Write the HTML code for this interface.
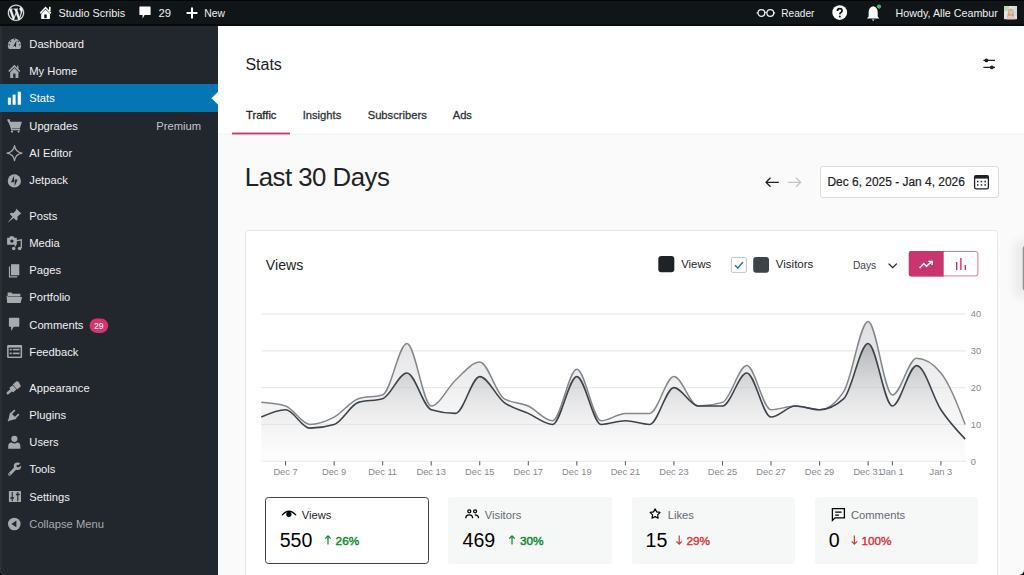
<!DOCTYPE html>
<html><head><meta charset="utf-8"><title>Stats</title>
<style>
*{box-sizing:border-box;margin:0;padding:0}
html,body{width:1024px;height:575px;overflow:hidden;background:#000}
body{font-family:"Liberation Sans",sans-serif;position:relative}
.t{position:absolute;white-space:nowrap;line-height:1.117}
#wrap{position:absolute;left:0;top:0;width:1024px;height:575px;border-radius:0 0 5px 5px;overflow:hidden;background:#fafafa}
#adminbar{position:absolute;left:0;top:0;width:1024px;height:25.6px;background:#101517}
#sidebar{position:absolute;left:0;top:25.6px;width:217.6px;height:550px;background:#22262d}
#header{position:absolute;left:217.6px;top:25.6px;width:806px;height:109.4px;background:#fff;border-bottom:2.2px solid #f5f6f6}
.abs{position:absolute}
svg{position:absolute;overflow:visible}
</style></head><body>
<div id="wrap">
<div id="adminbar">
<div class="abs" style="left:0;top:0;width:1024px;height:1px;background:#030506"></div>
<div class="abs" style="left:0;top:24.4px;width:1024px;height:1.2px;background:#07090a"></div>
<!-- WP logo -->
<svg style="left:0;top:0" width="30" height="26" viewBox="0 0 30 26">
 <g transform="translate(7.98,4.78) scale(0.668)" fill="#f0f0f1" stroke="#f0f0f1" stroke-width="0.55"><path d="M21.469 6.825c.84 1.537 1.318 3.3 1.318 5.175 0 3.979-2.156 7.456-5.363 9.325l3.295-9.527c.615-1.54.82-2.771.82-3.864 0-.405-.026-.78-.07-1.11m-7.981.105c.647-.03 1.232-.105 1.232-.105.582-.075.514-.93-.067-.899 0 0-1.755.135-2.88.135-1.064 0-2.850-.15-2.850-.15-.585-.03-.661.855-.075.885 0 0 .54.061 1.125.09l1.68 4.605-2.37 7.080L5.354 6.9c.649-.03 1.234-.1 1.234-.1.585-.075.516-.93-.065-.896 0 0-1.746.138-2.874.138-.2 0-.438-.008-.69-.015C4.911 3.150 8.235 1.215 12 1.215c2.809 0 5.365 1.072 7.286 2.833-.046-.003-.091-.009-.141-.009-1.060 0-1.812.923-1.812 1.914 0 .89.513 1.643 1.060 2.531.411.72.89 1.643.89 2.977 0 .915-.354 1.994-.821 3.479l-1.075 3.585-3.9-11.610.001.014zM12 22.784c-1.059 0-2.081-.153-3.048-.437l3.237-9.406 3.315 9.087c.024.053.05.101.078.149-1.120.393-2.325.609-3.582.609M1.211 12c0-1.564.336-3.050.935-4.390L7.290 21.709C3.694 19.960 1.212 16.271 1.211 12M12 0C5.385 0 0 5.385 0 12s5.385 12 12 12 12-5.385 12-12S18.615 0 12 0"/></g>
</svg>
<!-- home -->
<svg style="left:0;top:0" width="60" height="26" viewBox="0 0 60 26">
 <path d="M40.2 13.2 L45.55 7.6 L50.9 13.2" fill="none" stroke="#fff" stroke-width="1.5"/>
 <rect x="49" y="6.8" width="1.6" height="4.2" fill="#fff"/>
 <path d="M41.2 13.8 L45.55 9.6 L49.9 13.8 V19 H41.2 Z" fill="#fff"/>
 <rect x="44.3" y="14.5" width="2.4" height="3.7" fill="#101517"/>
</svg>
<!-- comment bubble -->
<svg style="left:139px;top:6px" width="12" height="14" viewBox="0 0 12 14">
 <path d="M1 0.5 H11 Q11.6 0.5 11.6 1.1 V8.4 Q11.6 9 11 9 H5.6 L3.6 12.6 L3.6 9 H1 Q0.4 9 0.4 8.4 V1.1 Q0.4 0.5 1 0.5 Z" fill="#fff"/>
</svg>
<!-- plus -->
<svg style="left:185.5px;top:7px" width="12" height="12" viewBox="0 0 12 12">
 <path d="M5 0.5 H7 V5 H11.5 V7 H7 V11.5 H5 V7 H0.5 V5 H5 Z" fill="#fff"/>
</svg>
<!-- reader glasses -->
<svg style="left:756px;top:8px" width="20" height="10" viewBox="0 0 20 10">
 <circle cx="5.4" cy="5" r="3.4" fill="none" stroke="#f0f0f1" stroke-width="1.2"/>
 <circle cx="14.3" cy="5" r="3.4" fill="none" stroke="#f0f0f1" stroke-width="1.2"/>
 <path d="M8.8 4.6 Q9.85 3.9 10.9 4.6 M2 4.6 L0.6 5.2 M17.7 4.6 L19.1 5.2" stroke="#f0f0f1" stroke-width="1.1" fill="none"/>
</svg>
<!-- help -->
<svg style="left:831.5px;top:5.2px" width="16" height="16" viewBox="0 0 16 16">
 <circle cx="7.7" cy="7.6" r="7.4" fill="#fff"/>
 <path d="M5.4 6 Q5.4 3.6 7.8 3.6 Q10.1 3.6 10.1 5.7 Q10.1 7 8.6 7.7 Q7.8 8.1 7.8 9.2" stroke="#101517" stroke-width="1.7" fill="none"/>
 <circle cx="7.8" cy="11.5" r="1.05" fill="#101517"/>
</svg>
<!-- bell -->
<svg style="left:865.5px;top:4px" width="18" height="18" viewBox="0 0 18 18">
 <path d="M7.2 2.2 Q2.6 3 2.6 8.2 V12.6 L0.9 14.4 H13.4 L11.7 12.6 V8.2 Q11.7 3 7.2 2.2 Z" fill="#fff"/>
 <path d="M5.8 15.5 H8.6 L7.2 17.1 Z" fill="#fff"/>
 <circle cx="13" cy="2.6" r="2.8" fill="#101517"/>
 <circle cx="13" cy="2.6" r="2.1" fill="#4ab866"/>
</svg>
<!-- avatar -->
<svg style="left:1004px;top:5.8px" width="13" height="13.2" viewBox="0 0 13 13.2">
 <rect width="13" height="13.2" fill="#e4e6e4"/>
 <rect x="0" y="0" width="5" height="5" fill="#bcd9b4"/>
 <rect x="8" y="0" width="5" height="2" fill="#d6e4cc"/>
 <rect x="9" y="2" width="4" height="8" fill="#d9d9d6"/>
 <path d="M3.2 13.2 Q3 9 4 7 Q4 3 7 2.6 Q9.4 3 9.6 6.6 Q10.4 10 10 13.2 Z" fill="#c8a58c"/>
 <ellipse cx="6.9" cy="6.2" rx="1.9" ry="2.3" fill="#e8c0ad"/>
 <path d="M2 13.2 Q2.4 9.8 6.6 9.4 Q11 9.8 11.6 13.2 Z" fill="#e7c6c0"/>
</svg>
</div>

<div id="sidebar">
 <div class="abs" style="left:0;top:0;width:1.5px;height:550px;background:#2a2e35"></div>
 <div class="abs" style="left:0;top:58.9px;width:218px;height:27.2px;background:#0675b4"></div>
</div>
<!-- sidebar icons (absolute page coords) -->
<svg style="left:0;top:0" width="218" height="575" viewBox="0 0 218 575">
 <g fill="#a7aaad">
  <!-- dashboard gauge -->
  <path d="M8.9 49 A6.7 6.7 0 1 1 20.1 49 Z"/>
  <g fill="#22262d">
   <circle cx="14.5" cy="39.6" r="0.7"/><circle cx="10.6" cy="41.3" r="0.7"/><circle cx="18.4" cy="41.3" r="0.7"/>
   <circle cx="9.2" cy="44.8" r="0.7"/><circle cx="19.8" cy="44.8" r="0.7"/>
   <path d="M13.2 46.4 L16.4 40.4 L15.9 47.3 Z"/>
  </g>
  <circle cx="14.6" cy="46.9" r="0.75" fill="#d5d7d9"/>
  <!-- my home -->
  <path d="M14.3 64.8 L8.2 70.9 L9.3 71.9 L14.3 66.9 L19.3 71.9 L20.4 70.9 L18.4 68.9 V65.6 H17.2 V67.7 Z"/>
  <path d="M10.2 72.2 L14.3 68.1 L18.4 72.2 V77.9 H10.2 Z"/>
  <rect x="13.2" y="73.6" width="2.3" height="4.3" fill="#22262d"/>
  <!-- cart -->
  <path d="M6.9 119.6 H9.6 L10.3 121.8 H21.9 L19.8 128.4 H11.6 Z"/>
  <path d="M8.8 119.2 L11.8 129.6 H20.2" fill="none" stroke="#a7aaad" stroke-width="1.3"/>
  <circle cx="12" cy="131.6" r="1.1"/><circle cx="18.6" cy="131.6" r="1.1"/>
  <!-- AI editor sparkle -->
  <path d="M14.5 145.6 Q15.4 152 22 153.1 Q15.4 154.2 14.5 160.6 Q13.6 154.2 7 153.1 Q13.6 152 14.5 145.6 Z" fill="none" stroke="#a7aaad" stroke-width="1.25" stroke-linejoin="round"/>
  <!-- jetpack -->
  <circle cx="14.35" cy="180.9" r="6.6"/>
  <path d="M14.1 175.6 L11 182.2 H14 Z M14.6 186.2 L17.7 179.6 H14.7 Z" fill="#22262d"/>
  <!-- posts pin -->
  <path d="M16.2 208.6 L21.4 213.8 L20 214.2 L17.4 216.8 L17.6 219.4 L16.3 220.6 L13.6 217.9 L7.4 222.9 L12.4 216.7 L9.7 214 L10.9 212.7 L13.5 212.9 L16.1 210.3 Z"/>
  <!-- media -->
  <path d="M7.1 237.8 H9.2 L10.2 236.3 H13.4 L14.4 237.8 H16.8 V244.7 H7.1 Z"/>
  <circle cx="11.9" cy="241.1" r="1.7" fill="#22262d"/>
  <path d="M14.2 241.2 L21.3 239.9 V248.2" fill="none" stroke="#a7aaad" stroke-width="1.3"/>
  <path d="M15.3 246.6 V241.6" stroke="#a7aaad" stroke-width="1.3"/>
  <circle cx="19.6" cy="248.6" r="1.75"/><circle cx="13.7" cy="248.6" r="1.75"/>
  <!-- pages -->
  <path d="M11 264.2 H19.3 V275.3 H11 Z"/>
  <path d="M9.5 266.5 V276.8 H17.2" fill="none" stroke="#a7aaad" stroke-width="1.2"/>
  <!-- portfolio folder -->
  <path d="M7.6 292.4 H11.3 L12.6 293.8 H20.4 V296.4 H7.6 Z"/>
  <path d="M8.4 297 H22.1 L20.6 303.1 H7.2 L6.5 295.6 Z"/>
  <!-- comments -->
  <path d="M9.6 317.7 H18.6 Q19.3 317.7 19.3 318.4 V326.1 Q19.3 326.8 18.6 326.8 H13.8 L11.1 331 V326.8 H9.6 Q8.9 326.8 8.9 326.1 V318.4 Q8.9 317.7 9.6 317.7 Z"/>
  <!-- feedback -->
  <rect x="7.1" y="344.9" width="15" height="13.2" rx="1"/>
  <rect x="8.6" y="347.6" width="12" height="9" fill="#22262d"/>
  <rect x="9.6" y="348.8" width="2.2" height="1.6"/><rect x="12.8" y="348.8" width="6.8" height="1.6"/>
  <rect x="9.6" y="352.6" width="2.2" height="1.6"/><rect x="12.8" y="352.6" width="6.8" height="1.6"/>
  <!-- appearance brush -->
  <g transform="translate(7.9,393.1) rotate(-41)">
   <path d="M0 0 L5.2 0" stroke="#a7aaad" stroke-width="2.7" stroke-linecap="round"/>
   <rect x="4.4" y="-2.9" width="4.3" height="5.8" rx="0.3"/>
   <path d="M9.3 -3.3 H14.2 L15.6 -1.6 L14.4 3.3 H9.3 Z"/>
  </g>
  <!-- plugins -->
  <g transform="translate(8.2,420.8) rotate(-45)">
   <rect x="0" y="-0.9" width="2" height="1.8"/>
   <path d="M1.6 -1 L6.8 -4.4 Q7.6 -4.4 7.6 -3.6 V3.6 Q7.6 4.4 6.8 4.4 L1.6 1 Z"/>
   <rect x="7.2" y="-3.7" width="5" height="1.7"/>
   <rect x="7.2" y="2" width="5" height="1.7"/>
  </g>
  <!-- users -->
  <circle cx="14.4" cy="438.8" r="3.1"/>
  <path d="M8.2 448.8 V446.4 Q8.2 442.8 11.6 442.6 Q14.4 444.4 17.2 442.6 Q20.4 442.8 20.4 446.4 V448.8 Z"/>
  <!-- tools wrench -->
  <path d="M9.6 474.2 L15.4 468.3" stroke="#a7aaad" stroke-width="2.9" stroke-linecap="round"/>
  <circle cx="17.5" cy="466.2" r="3.7"/>
  <path d="M17.6 466.1 L21.8 461.9 L23.2 463.3 L19 467.5 Z" fill="#22262d"/>
  <circle cx="17.7" cy="466" r="1.2" fill="#22262d"/>
  <circle cx="9.7" cy="474.1" r="0.7" fill="#22262d"/>
  <!-- settings -->
  <rect x="8.9" y="490.9" width="12.1" height="11.2" rx="0.6"/>
  <path d="M12.2 491.9 V501.2 M17.8 491.9 V501.2" stroke="#23282d" stroke-width="1.1"/>
  <path d="M10.4 498 H14 M16 494.4 H19.6" stroke="#23282d" stroke-width="1.5"/>
  <!-- collapse -->
  <circle cx="14.3" cy="523.95" r="6.3"/>
  <path d="M11.4 523.9 L16.4 520.6 V527.2 Z" fill="#22262d"/>
 </g>
 <!-- stats bars -->
 <g fill="#fff">
  <rect x="7.9" y="97.6" width="3" height="7.1"/>
  <rect x="12.6" y="94.6" width="3" height="10.1"/>
  <rect x="17.7" y="91.7" width="3.2" height="13"/>
 </g>
 <!-- comments badge -->
 <rect x="89.5" y="318.6" width="18.8" height="14.3" rx="7.15" fill="#d3366e"/>
</svg>

<div id="header"></div>
<div class="abs" style="left:217.6px;top:50px;width:806.4px;height:1px;background:#fbfcfc"></div>
<!-- stats arrow -->
<svg style="left:0;top:0" width="1024" height="575" viewBox="0 0 1024 575">
 <path d="M211.4 98.2 L218.2 91.6 V104.8 Z" fill="#fff"/>
 <!-- header settings icon -->
 <g stroke="#1d2327" stroke-width="1.3">
  <path d="M983.4 60.4 H995 M983.4 67.4 H995"/>
 </g>
 <circle cx="986.4" cy="60.4" r="1.9" fill="#1d2327"/>
 <circle cx="991.8" cy="67.4" r="1.9" fill="#1d2327"/>
 <!-- tab underline -->
 <rect x="232" y="132.6" width="58" height="1.8" fill="#c9356e"/>
 <!-- arrows -->
 <path d="M766 182.3 H778.8 M770.5 177.8 L766 182.3 L770.5 186.8" stroke="#1d2327" stroke-width="1.3" fill="none"/>
 <path d="M800.6 182.3 H787.8 M796.1 177.8 L800.6 182.3 L796.1 186.8" stroke="#c3c4c7" stroke-width="1.3" fill="none"/>
</svg>
<!-- date box -->
<div class="abs" style="left:820px;top:166px;width:178.6px;height:32px;background:#fff;border:1px solid #dcdcde;border-radius:3px"></div>
<svg style="left:0;top:0" width="1024" height="575" viewBox="0 0 1024 575">
 <rect x="974.6" y="175.6" width="13.8" height="13.2" rx="1.6" fill="none" stroke="#1d2327" stroke-width="1.3"/>
 <rect x="974.6" y="175.6" width="13.8" height="3" fill="#1d2327"/>
 <g fill="#1d2327">
  <rect x="977" y="180.8" width="1.5" height="1.5"/><rect x="980.7" y="180.8" width="1.5" height="1.5"/><rect x="984.4" y="180.8" width="1.5" height="1.5"/>
  <rect x="977" y="184.2" width="1.5" height="1.5"/><rect x="980.7" y="184.2" width="1.5" height="1.5"/><rect x="984.4" y="184.2" width="1.5" height="1.5"/>
 </g>
</svg>
<!-- card -->
<div class="abs" style="left:245px;top:230px;width:753.2px;height:400px;background:#fff;border:1px solid #e6e6e6;border-radius:3px"></div>
<svg style="left:0;top:0" width="1024" height="575" viewBox="0 0 1024 575">
 <rect x="658.3" y="256" width="16" height="16.2" rx="3" fill="#1d2327"/>
 <rect x="731.4" y="257.4" width="15" height="15" rx="1.5" fill="#fff" stroke="#c3c4c7" stroke-width="1"/>
 <path d="M735 265.2 L737.8 268 L743 262" stroke="#2271b1" stroke-width="1.4" fill="none"/>
 <rect x="753.2" y="257" width="15.8" height="15.8" rx="3" fill="#3c434a"/>
 <path d="M888.6 263.6 L892.7 267.6 L896.8 263.6" stroke="#1d2327" stroke-width="1.3" fill="none"/>
 <!-- toggle -->
 <rect x="909.3" y="251.5" width="68.6" height="24.4" rx="2.2" fill="#fff" stroke="#d77c9f" stroke-width="1"/>
 <path d="M911 251 H943.7 V276.4 H911 Q908.8 276.4 908.8 274.2 V253.2 Q908.8 251 911 251 Z" fill="#c9356e"/>
 <path d="M919.6 268 L923.8 263.6 L926.4 266.2 L931.8 261.6 M928.4 261.4 H932.2 V265" stroke="#fff" stroke-width="1.4" fill="none"/>
 <g fill="#c9356e">
  <rect x="956" y="262" width="1.4" height="8"/><rect x="960.2" y="258" width="1.4" height="12"/><rect x="964.6" y="265" width="1.4" height="5"/>
 </g>
</svg>
<!-- chart -->
<svg style="left:0;top:0" width="1024" height="575" viewBox="0 0 1024 575">
 <defs>
  <linearGradient id="gv" x1="0" y1="314" x2="0" y2="461" gradientUnits="userSpaceOnUse">
   <stop offset="0" stop-color="#c4c5c9" stop-opacity="0.6"/>
   <stop offset="1" stop-color="#f3f3f4" stop-opacity="0.25"/>
  </linearGradient>
  <linearGradient id="gs" x1="0" y1="314" x2="0" y2="461" gradientUnits="userSpaceOnUse">
   <stop offset="0" stop-color="#6f7277" stop-opacity="0.7"/>
   <stop offset="1" stop-color="#ffffff" stop-opacity="0"/>
  </linearGradient>
 </defs>
 <g stroke="#e4e4e6" stroke-width="1">
  <path d="M261.3 314.1 H965.5 M261.3 350.9 H965.5 M261.3 387.7 H965.5 M261.3 424.4 H965.5 M261.3 461.2 H965.5"/>
 </g>
 <path d="M261.30,402.36 C269.39,402.97 277.48,403.59 285.57,406.04 C293.66,408.49 301.75,424.43 309.84,424.43 C317.94,424.43 326.03,421.36 334.12,417.07 C342.21,412.78 350.30,401.13 358.39,398.68 C366.48,396.23 374.57,397.46 382.66,395.00 C390.75,392.55 398.84,343.52 406.93,343.52 C415.03,343.52 423.12,406.04 431.21,406.04 C439.30,406.04 447.39,387.65 455.48,380.30 C463.57,372.94 471.66,361.91 479.75,361.91 C487.84,361.91 495.93,393.78 504.02,398.68 C512.11,403.59 520.21,402.36 528.30,406.04 C536.39,409.72 544.48,420.75 552.57,420.75 C560.66,420.75 568.75,369.26 576.84,369.26 C584.93,369.26 593.02,420.75 601.11,420.75 C609.20,420.75 617.30,413.39 625.39,413.39 C633.48,413.39 641.57,413.39 649.66,413.39 C657.75,413.39 665.84,376.62 673.93,376.62 C682.02,376.62 690.11,406.04 698.20,406.04 C706.29,406.04 714.39,404.81 722.48,402.36 C730.57,399.91 738.66,365.59 746.75,365.59 C754.84,365.59 762.93,409.71 771.02,409.71 C779.11,409.71 787.20,406.04 795.29,406.04 C803.38,406.04 811.47,409.71 819.57,409.71 C827.66,409.71 835.75,403.59 843.84,391.33 C851.93,379.07 860.02,321.46 868.11,321.46 C876.20,321.46 884.29,395.00 892.38,395.00 C900.47,395.00 908.56,358.23 916.66,358.23 C924.75,358.23 932.84,363.13 940.93,372.94 C949.02,382.75 957.11,403.59 965.20,424.43 L965.20,461.20 L261.30,461.20 Z" fill="url(#gv)"/>
 <path d="M261.30,417.07 C269.39,413.39 277.48,409.71 285.57,409.71 C293.66,409.71 301.75,428.10 309.84,428.10 C317.94,428.10 326.03,426.88 334.12,424.43 C342.21,421.97 350.30,404.81 358.39,402.36 C366.48,399.91 374.57,401.13 382.66,398.68 C390.75,396.23 398.84,372.94 406.93,372.94 C415.03,372.94 423.12,407.26 431.21,409.71 C439.30,412.17 447.39,413.39 455.48,413.39 C463.57,413.39 471.66,376.62 479.75,376.62 C487.84,376.62 495.93,396.23 504.02,402.36 C512.11,408.49 520.21,409.71 528.30,413.39 C536.39,417.07 544.48,424.43 552.57,424.43 C560.66,424.43 568.75,376.62 576.84,376.62 C584.93,376.62 593.02,424.43 601.11,424.43 C609.20,424.43 617.30,420.75 625.39,420.75 C633.48,420.75 641.57,424.43 649.66,424.43 C657.75,424.43 665.84,387.65 673.93,387.65 C682.02,387.65 690.11,406.04 698.20,406.04 C706.29,406.04 714.39,406.04 722.48,406.04 C730.57,406.04 738.66,372.94 746.75,372.94 C754.84,372.94 762.93,417.07 771.02,417.07 C779.11,417.07 787.20,406.04 795.29,406.04 C803.38,406.04 811.47,409.71 819.57,409.71 C827.66,409.71 835.75,406.04 843.84,398.68 C851.93,391.33 860.02,343.52 868.11,343.52 C876.20,343.52 884.29,406.04 892.38,406.04 C900.47,406.04 908.56,365.59 916.66,365.59 C924.75,365.59 932.84,397.46 940.93,409.71 C949.02,421.97 957.11,430.55 965.20,439.13 L965.20,461.20 L261.30,461.20 Z" fill="url(#gs)"/>
 <path d="M261.30,402.36 C269.39,402.97 277.48,403.59 285.57,406.04 C293.66,408.49 301.75,424.43 309.84,424.43 C317.94,424.43 326.03,421.36 334.12,417.07 C342.21,412.78 350.30,401.13 358.39,398.68 C366.48,396.23 374.57,397.46 382.66,395.00 C390.75,392.55 398.84,343.52 406.93,343.52 C415.03,343.52 423.12,406.04 431.21,406.04 C439.30,406.04 447.39,387.65 455.48,380.30 C463.57,372.94 471.66,361.91 479.75,361.91 C487.84,361.91 495.93,393.78 504.02,398.68 C512.11,403.59 520.21,402.36 528.30,406.04 C536.39,409.72 544.48,420.75 552.57,420.75 C560.66,420.75 568.75,369.26 576.84,369.26 C584.93,369.26 593.02,420.75 601.11,420.75 C609.20,420.75 617.30,413.39 625.39,413.39 C633.48,413.39 641.57,413.39 649.66,413.39 C657.75,413.39 665.84,376.62 673.93,376.62 C682.02,376.62 690.11,406.04 698.20,406.04 C706.29,406.04 714.39,404.81 722.48,402.36 C730.57,399.91 738.66,365.59 746.75,365.59 C754.84,365.59 762.93,409.71 771.02,409.71 C779.11,409.71 787.20,406.04 795.29,406.04 C803.38,406.04 811.47,409.71 819.57,409.71 C827.66,409.71 835.75,403.59 843.84,391.33 C851.93,379.07 860.02,321.46 868.11,321.46 C876.20,321.46 884.29,395.00 892.38,395.00 C900.47,395.00 908.56,358.23 916.66,358.23 C924.75,358.23 932.84,363.13 940.93,372.94 C949.02,382.75 957.11,403.59 965.20,424.43" fill="none" stroke="#85878b" stroke-width="1.5"/>
 <path d="M261.30,417.07 C269.39,413.39 277.48,409.71 285.57,409.71 C293.66,409.71 301.75,428.10 309.84,428.10 C317.94,428.10 326.03,426.88 334.12,424.43 C342.21,421.97 350.30,404.81 358.39,402.36 C366.48,399.91 374.57,401.13 382.66,398.68 C390.75,396.23 398.84,372.94 406.93,372.94 C415.03,372.94 423.12,407.26 431.21,409.71 C439.30,412.17 447.39,413.39 455.48,413.39 C463.57,413.39 471.66,376.62 479.75,376.62 C487.84,376.62 495.93,396.23 504.02,402.36 C512.11,408.49 520.21,409.71 528.30,413.39 C536.39,417.07 544.48,424.43 552.57,424.43 C560.66,424.43 568.75,376.62 576.84,376.62 C584.93,376.62 593.02,424.43 601.11,424.43 C609.20,424.43 617.30,420.75 625.39,420.75 C633.48,420.75 641.57,424.43 649.66,424.43 C657.75,424.43 665.84,387.65 673.93,387.65 C682.02,387.65 690.11,406.04 698.20,406.04 C706.29,406.04 714.39,406.04 722.48,406.04 C730.57,406.04 738.66,372.94 746.75,372.94 C754.84,372.94 762.93,417.07 771.02,417.07 C779.11,417.07 787.20,406.04 795.29,406.04 C803.38,406.04 811.47,409.71 819.57,409.71 C827.66,409.71 835.75,406.04 843.84,398.68 C851.93,391.33 860.02,343.52 868.11,343.52 C876.20,343.52 884.29,406.04 892.38,406.04 C900.47,406.04 908.56,365.59 916.66,365.59 C924.75,365.59 932.84,397.46 940.93,409.71 C949.02,421.97 957.11,430.55 965.20,439.13" fill="none" stroke="#3c434a" stroke-width="1.6"/>
 <path d="M285.57,461.2V465.5 M334.12,461.2V465.5 M382.66,461.2V465.5 M431.21,461.2V465.5 M479.75,461.2V465.5 M528.30,461.2V465.5 M576.84,461.2V465.5 M625.39,461.2V465.5 M673.93,461.2V465.5 M722.48,461.2V465.5 M771.02,461.2V465.5 M819.57,461.2V465.5 M868.11,461.2V465.5 M892.38,461.2V465.5 M940.93,461.2V465.5" stroke="#50575e" stroke-width="1"/>
 <g font-family="Liberation Sans" font-size="9.3" fill="#85888d">
<text x="970.8" y="464.50">0</text>
<text x="970.8" y="427.73">10</text>
<text x="970.8" y="390.95">20</text>
<text x="970.8" y="354.18">30</text>
<text x="970.8" y="317.40">40</text>
<text x="285.57" y="474.6" text-anchor="middle">Dec 7</text>
<text x="334.12" y="474.6" text-anchor="middle">Dec 9</text>
<text x="382.66" y="474.6" text-anchor="middle">Dec 11</text>
<text x="431.21" y="474.6" text-anchor="middle">Dec 13</text>
<text x="479.75" y="474.6" text-anchor="middle">Dec 15</text>
<text x="528.30" y="474.6" text-anchor="middle">Dec 17</text>
<text x="576.84" y="474.6" text-anchor="middle">Dec 19</text>
<text x="625.39" y="474.6" text-anchor="middle">Dec 21</text>
<text x="673.93" y="474.6" text-anchor="middle">Dec 23</text>
<text x="722.48" y="474.6" text-anchor="middle">Dec 25</text>
<text x="771.02" y="474.6" text-anchor="middle">Dec 27</text>
<text x="819.57" y="474.6" text-anchor="middle">Dec 29</text>
<text x="868.11" y="474.6" text-anchor="middle">Dec 31</text>
<text x="892.38" y="474.6" text-anchor="middle">Jan 1</text>
<text x="940.93" y="474.6" text-anchor="middle">Jan 3</text>
 </g>
</svg>
<!-- stat cards -->
<div class="abs" style="left:264.9px;top:497px;width:163.8px;height:66.5px;background:#fff;border:1.5px solid #3c434a;border-radius:3.5px"></div>
<div class="abs" style="left:448.4px;top:497px;width:163.3px;height:66.5px;background:#f6f7f7;border-radius:3px"></div>
<div class="abs" style="left:631.5px;top:497px;width:163.5px;height:66.5px;background:#f6f7f7;border-radius:3px"></div>
<div class="abs" style="left:814.7px;top:497px;width:163.4px;height:66.5px;background:#f6f7f7;border-radius:3px"></div>
<svg style="left:0;top:0" width="1024" height="575" viewBox="0 0 1024 575">
 <!-- eye -->
 <path d="M282.3 514.9 Q289 507.6 295.7 514.9" fill="none" stroke="#000" stroke-width="1.3" stroke-linecap="round"/>
 <circle cx="288.9" cy="514.3" r="2.6" fill="#000"/>
 <!-- people -->
 <g fill="none" stroke="#000" stroke-width="1.3">
  <circle cx="469.3" cy="511.3" r="1.5"/><circle cx="475.1" cy="511.3" r="1.5"/>
  <path d="M465.8 518.2 Q465.8 514.9 469.3 514.9 Q472.6 514.9 472.6 518.2 M474.8 514.9 Q478.5 514.9 478.5 518.2"/>
 </g>
 <!-- star -->
 <path d="M655.10 508.80 L656.66 511.86 L660.05 512.39 L657.62 514.82 L658.16 518.21 L655.10 516.65 L652.04 518.21 L652.58 514.82 L650.15 512.39 L653.54 511.86 Z" fill="none" stroke="#000" stroke-width="1.2" stroke-linejoin="round"/>
 <!-- comment -->
 <path d="M832.4 508.6 H844.4 V517.9 H835 L832.4 520.4 Z" fill="none" stroke="#000" stroke-width="1.3" stroke-linejoin="miter"/>
 <path d="M835.2 512.1 H841.6 M835.2 515.2 H838.9" stroke="#000" stroke-width="1.2"/>
 <!-- arrows -->
 <path d="M328 544.6 V535.6 M325.3 538.6 L328 535.9 L330.7 538.6" stroke="#008a20" stroke-width="1.2" fill="none"/>
 <path d="M512 544.6 V535.6 M509.3 538.6 L512 535.9 L514.7 538.6" stroke="#008a20" stroke-width="1.2" fill="none"/>
 <path d="M679.2 535.4 V544.4 M676.5 541.4 L679.2 544.1 L681.9 541.4" stroke="#d63638" stroke-width="1.2" fill="none"/>
 <path d="M854.4 535.4 V544.4 M851.7 541.4 L854.4 544.1 L857.1 541.4" stroke="#d63638" stroke-width="1.2" fill="none"/>
 <!-- right edge floating element -->
 <defs><filter id="sh" x="-300%" y="-100%" width="600%" height="300%"><feGaussianBlur stdDeviation="5"/></filter></defs>
 <rect x="1014" y="240" width="24" height="58" rx="6" fill="#000" opacity="0.06" filter="url(#sh)"/>
 <rect x="1022.7" y="245.3" width="10" height="46" rx="4" fill="#8e9296"/>
</svg>
<svg style="left:0;top:0" width="1024" height="575" viewBox="0 0 1024 575" font-family="Liberation Sans">
<text x="58.60" y="17" font-size="10.89" fill="#f0f0f1">Studio Scribis</text>
<text x="158.40" y="17" font-size="11.26" fill="#f0f0f1">29</text>
<text x="204.30" y="17" font-size="10.32" fill="#f0f0f1">New</text>
<text x="781.30" y="17" font-size="10.12" fill="#f0f0f1">Reader</text>
<text x="895.60" y="17" font-size="10.72" fill="#f0f0f1">Howdy, Alle Ceambur</text>
<text x="29.30" y="48" font-size="11.20" fill="#f0f0f1">Dashboard</text>
<text x="29.30" y="75" font-size="11.20" fill="#f0f0f1">My Home</text>
<text x="29.30" y="102" font-size="11.20" fill="#ffffff">Stats</text>
<text x="29.30" y="130" font-size="11.20" fill="#f0f0f1">Upgrades</text>
<text x="29.30" y="157" font-size="11.20" fill="#f0f0f1">AI Editor</text>
<text x="29.30" y="184" font-size="11.20" fill="#f0f0f1">Jetpack</text>
<text x="29.30" y="220" font-size="11.20" fill="#f0f0f1">Posts</text>
<text x="29.30" y="247" font-size="11.20" fill="#f0f0f1">Media</text>
<text x="29.30" y="274" font-size="11.20" fill="#f0f0f1">Pages</text>
<text x="29.30" y="301" font-size="11.20" fill="#f0f0f1">Portfolio</text>
<text x="29.30" y="329" font-size="11.20" fill="#f0f0f1">Comments</text>
<text x="29.30" y="356" font-size="11.20" fill="#f0f0f1">Feedback</text>
<text x="29.30" y="392" font-size="11.20" fill="#f0f0f1">Appearance</text>
<text x="29.30" y="419" font-size="11.20" fill="#f0f0f1">Plugins</text>
<text x="29.30" y="446" font-size="11.20" fill="#f0f0f1">Users</text>
<text x="29.30" y="473" font-size="11.20" fill="#f0f0f1">Tools</text>
<text x="29.30" y="501" font-size="11.20" fill="#f0f0f1">Settings</text>
<text x="29.30" y="528" font-size="11.20" fill="#a7aaad">Collapse Menu</text>
<text x="156.30" y="130" font-size="11.20" fill="#c3c4c7">Premium</text>
<text x="94.00" y="329" font-size="8.65" fill="#ffffff">29</text>
<text x="245.40" y="70" font-size="16.00" fill="#1d2327">Stats</text>
<text x="246.00" y="119" font-size="11.20" fill="#1d2327" stroke="#1d2327" stroke-width="0.28">Traffic</text>
<text x="302.70" y="119" font-size="11.20" fill="#2c3338" stroke="#2c3338" stroke-width="0.28">Insights</text>
<text x="367.70" y="119" font-size="11.20" fill="#2c3338" stroke="#2c3338" stroke-width="0.28">Subscribers</text>
<text x="452.70" y="119" font-size="11.20" fill="#2c3338" stroke="#2c3338" stroke-width="0.28">Ads</text>
<text x="244.80" y="186" font-size="25.80" fill="#1d2327" letter-spacing="-0.5">Last 30 Days</text>
<text x="827.50" y="186" font-size="11.95" fill="#1d2327" stroke="#1d2327" stroke-width="0.2">Dec 6, 2025 - Jan 4, 2026</text>
<text x="265.80" y="270" font-size="14.20" fill="#1d2327">Views</text>
<text x="681.30" y="268" font-size="11.28" fill="#1d2327">Views</text>
<text x="775.80" y="268" font-size="11.53" fill="#1d2327">Visitors</text>
<text x="852.90" y="269" font-size="10.22" fill="#3c434a">Days</text>
<text x="301.70" y="519" font-size="11.20" fill="#1d2327">Views</text>
<text x="279.70" y="547" font-size="19.60" fill="#000000">550</text>
<text x="335.60" y="545" font-size="11.80" fill="#008a20" stroke="#008a20" stroke-width="0.4">26%</text>
<text x="484.80" y="519" font-size="11.20" fill="#646970">Visitors</text>
<text x="462.50" y="547" font-size="19.60" fill="#000000">469</text>
<text x="520.00" y="545" font-size="11.80" fill="#008a20" stroke="#008a20" stroke-width="0.4">30%</text>
<text x="667.70" y="519" font-size="11.20" fill="#646970">Likes</text>
<text x="645.60" y="547" font-size="19.60" fill="#000000">15</text>
<text x="686.50" y="545" font-size="11.80" fill="#d63638" stroke="#d63638" stroke-width="0.4">29%</text>
<text x="851.00" y="519" font-size="11.20" fill="#646970">Comments</text>
<text x="828.70" y="547" font-size="19.60" fill="#000000">0</text>
<text x="861.60" y="545" font-size="11.71" fill="#d63638" stroke="#d63638" stroke-width="0.4">100%</text>
</svg>
</div>
</body></html>
